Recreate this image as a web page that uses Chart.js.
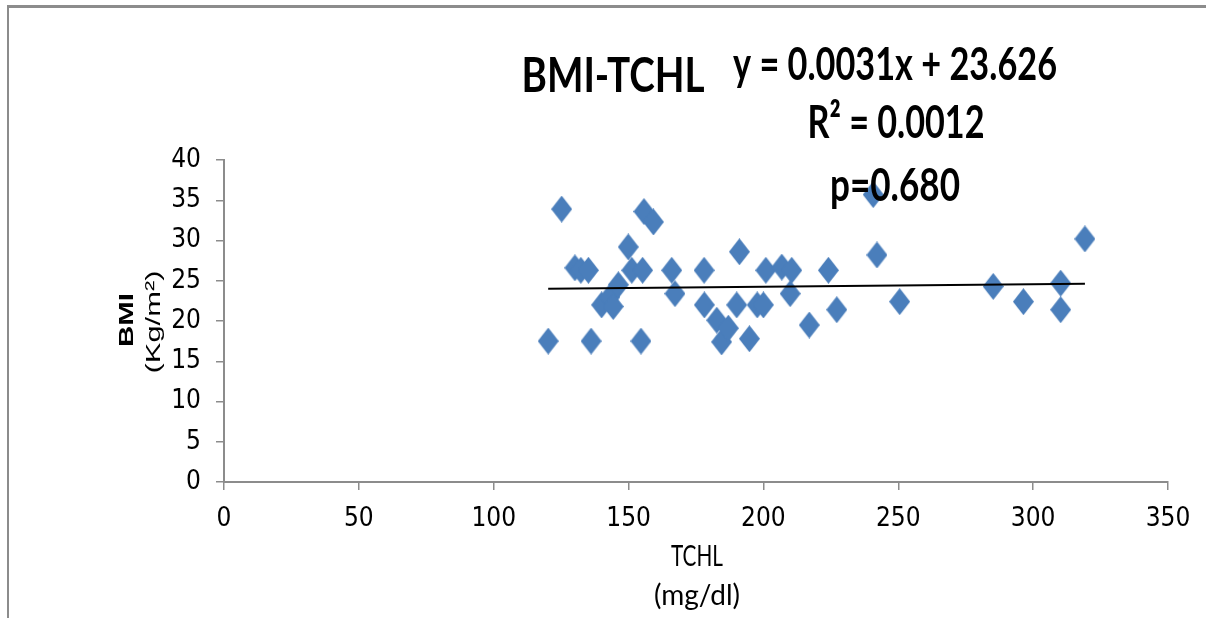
<!DOCTYPE html>
<html>
<head>
<meta charset="utf-8">
<script src="https://cdn.jsdelivr.net/npm/chart.js@4"></script>
<style>
  html, body { margin: 0; padding: 0; background: #fff; }
  #wrap { position: relative; width: 1206px; height: 618px; overflow: hidden; }
  #frame { position: absolute; left: 7px; top: 5px; right: -10px; bottom: -10px;
           border-top: 3px solid #8c8c8c; border-left: 2px solid #8c8c8c; }
  canvas { position: absolute; left: 0; top: 0; }
</style>
</head>
<body>
<div id="wrap">
  <div id="frame"></div>
  <canvas id="chart" width="1206" height="618"></canvas>
</div>
<script>
// ===== Data =====
const tchl = [120.2, 125.2, 130.1, 132.3, 135.1, 136.1, 140.0, 143.1, 144.3, 146.2,
              149.9, 151.2, 154.6, 155.2, 155.7, 159.2, 166.0, 167.2, 178.0, 178.1,
              182.7, 184.5, 187.0, 190.1, 191.1, 194.8, 197.7, 200.0, 200.9, 206.8,
              209.9, 210.5, 217.0, 224.1, 227.2, 240.7, 242.1, 250.5, 285.2, 296.4,
              310.2, 310.2, 319.2];
const bmi = [17.5, 33.9, 26.6, 26.3, 26.3, 17.5, 22.0, 23.0, 21.8, 24.5,
             29.2, 26.3, 17.5, 26.3, 33.6, 32.3, 26.3, 23.4, 26.3, 22.0,
             20.1, 17.4, 19.1, 22.0, 28.6, 17.8, 22.0, 22.0, 26.3, 26.7,
             23.4, 26.3, 19.5, 26.3, 21.4, 35.7, 28.2, 22.4, 24.3, 22.4,
             24.7, 21.4, 30.2];
const xTicks = [0, 50, 100, 150, 200, 250, 300, 350];
const yTicks = [0, 5, 10, 15, 20, 25, 30, 35, 40];
const slope = 0.0031;
const intercept = 23.626;
const titleText = 'BMI-TCHL';
const statLines = ['y = 0.0031x + 23.626', 'R\u00B2 = 0.0012', 'p=0.680'];

// trendline ends at the data range
const xMin = Math.min(...tchl), xMax = Math.max(...tchl);
const trend = [xMin, xMax].map(x => ({ x: x, y: slope * x + intercept }));

// diamond marker (a bit taller than wide, like the picture)
const diamond = document.createElement('canvas');
diamond.width = 21; diamond.height = 27;
(function () {
  const c = diamond.getContext('2d');
  c.fillStyle = '#4A7EBB';
  c.beginPath();
  c.moveTo(10.5, 0); c.lineTo(21, 13.5); c.lineTo(10.5, 27); c.lineTo(0, 13.5);
  c.closePath(); c.fill();
})();

// draw text squeezed/stretched to a given width
function drawFit(ctx, text, x, y, font, width, angle) {
  ctx.save();
  ctx.translate(x, y);
  if (angle) ctx.rotate(angle);
  ctx.font = font;
  const w = ctx.measureText(text).width;
  ctx.scale(width / w, 1);
  ctx.textAlign = 'center';
  ctx.textBaseline = 'alphabetic';
  ctx.fillStyle = '#000';
  ctx.fillText(text, 0, 0);
  ctx.restore();
}

const labelsPlugin = {
  id: 'labels',
  afterDraw(chart) {
    const ctx = chart.ctx;
    drawFit(ctx, titleText, 613, 92, 'bold 48px Lato', 183);
    drawFit(ctx, statLines[0], 895, 80, 'bold 46px Lato', 324);
    drawFit(ctx, statLines[1], 896, 138, 'bold 46px Lato', 177);
    drawFit(ctx, statLines[2], 895, 201, 'bold 46px Lato', 130);
    drawFit(ctx, 'TCHL', 697, 566, '29px Lato', 52);
    drawFit(ctx, '(mg/dl)', 697, 605, '29px Lato', 86);
    drawFit(ctx, 'BMI', 133, 320, 'bold 21px "Liberation Sans"', 54, -Math.PI / 2);
    drawFit(ctx, '(Kg/m\u00B2)', 160, 322, '21px "Liberation Sans"', 103, -Math.PI / 2);
  }
};

const tickFont = { family: "'Liberation Sans Narrow', 'DejaVu Sans Condensed', Lato", size: 26 };

new Chart(document.getElementById('chart'), {
  type: 'scatter',
  data: {
    datasets: [
      {
        type: 'line',
        data: trend,
        borderColor: '#000',
        borderWidth: 2,
        pointRadius: 0,
        fill: false
      },
      {
        data: tchl.map((x, i) => ({ x: x, y: bmi[i] })),
        pointStyle: diamond,
        pointRadius: 11,
        pointHoverRadius: 11
      }
    ]
  },
  options: {
    responsive: false,
    animation: false,
    layout: { padding: { top: 160, right: 38, bottom: 0, left: 0 } },
    plugins: { legend: { display: false }, tooltip: { enabled: false } },
    scales: {
      x: {
        type: 'linear',
        min: 0, max: 350,
        afterBuildTicks: s => { s.ticks = xTicks.map(v => ({ value: v })); },
        afterFit: s => { s.height = 136; },
        grid: { drawOnChartArea: false, drawTicks: true, tickLength: 8, color: '#8c8c8c', lineWidth: 1.5 },
        border: { color: '#8c8c8c', width: 2 },
        ticks: { color: '#000', font: tickFont, padding: 14, maxRotation: 0 }
      },
      y: {
        type: 'linear',
        min: 0, max: 40,
        afterBuildTicks: s => { s.ticks = yTicks.map(v => ({ value: v })); },
        afterFit: s => { s.width = 224; },
        grid: { drawOnChartArea: false, drawTicks: true, tickLength: 8, color: '#8c8c8c', lineWidth: 1.5 },
        border: { color: '#8c8c8c', width: 2 },
        ticks: { color: '#000', font: tickFont, padding: 15 }
      }
    }
  },
  plugins: [labelsPlugin]
});
</script>
</body>
</html>
